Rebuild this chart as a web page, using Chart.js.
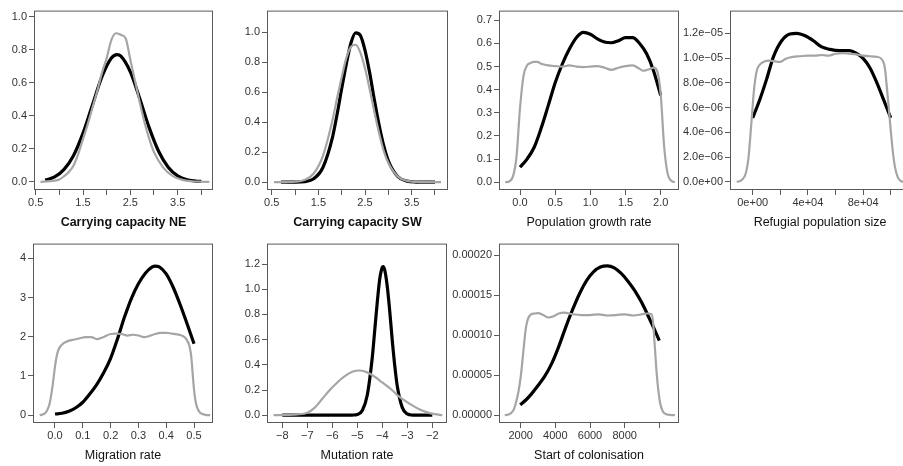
<!DOCTYPE html>
<html><head><meta charset="utf-8">
<script src="https://cdn.jsdelivr.net/npm/chart.js@4/dist/chart.umd.min.js"></script>
<style>
html,body{margin:0;padding:0;background:#fff;overflow:hidden;width:903px;height:466px;}
canvas{position:absolute;}
</style></head><body>
<script>
// ---------- DATA ----------
// Carrying capacity NE
const neGrayX = [0.6,0.8,1.0,1.1,1.2,1.3,1.4,1.5,1.6,1.7,1.8,1.9,2.0,2.1,2.2,2.3,2.4,2.5,2.6,2.7,2.8,2.9,3.0,3.2,3.4,3.6,3.8,4.0,4.17];
const neGrayY = [0,0.005,0.015,0.035,0.06,0.1,0.17,0.26,0.35,0.45,0.55,0.66,0.75,0.86,0.9,0.89,0.87,0.74,0.61,0.48,0.36,0.26,0.18,0.085,0.035,0.012,0.004,0.001,0];
const neBlackX = [0.7,0.9,1.1,1.3,1.5,1.7,1.9,2.1,2.22,2.3,2.5,2.7,2.9,3.1,3.3,3.5,3.7,3.9,4.0];
const neBlackY = [0.011,0.03,0.076,0.16,0.295,0.467,0.637,0.75,0.77,0.761,0.666,0.503,0.327,0.184,0.089,0.037,0.013,0.004,0.003];
// Carrying capacity SW
const swGrayX = [0.55,0.8,1.0,1.2,1.4,1.6,1.8,1.9,2.0,2.1,2.2,2.3,2.4,2.5,2.6,2.7,2.8,2.9,3.0,3.2,3.4,3.6,3.8,4.13];
const swGrayY = [0,0.001,0.003,0.014,0.058,0.178,0.41,0.56,0.70,0.83,0.904,0.917,0.865,0.76,0.62,0.47,0.33,0.21,0.13,0.039,0.009,0.002,0,0];
const swBlackX = [0.7,1.0,1.2,1.4,1.6,1.8,1.9,2.0,2.1,2.2,2.3,2.4,2.5,2.6,2.7,2.8,2.9,3.0,3.2,3.4,3.6,3.8,4.0];
const swBlackY = [0,0.0005,0.004,0.023,0.1,0.296,0.45,0.625,0.79,0.93,0.996,0.98,0.88,0.73,0.55,0.385,0.245,0.143,0.038,0.007,0.001,0,0];
// Population growth rate
const grGrayX = [-0.21,-0.15,-0.1,-0.05,0,0.05,0.1,0.15,0.2,0.25,0.3,0.4,0.5,0.6,0.7,0.8,0.9,1.0,1.1,1.2,1.3,1.4,1.5,1.6,1.7,1.75,1.8,1.85,1.9,1.95,2.0,2.05,2.1,2.15,2.2];
const grGrayY = [0,0.004,0.025,0.11,0.32,0.46,0.505,0.515,0.52,0.52,0.512,0.505,0.502,0.5,0.505,0.5,0.498,0.5,0.502,0.495,0.486,0.495,0.502,0.505,0.49,0.482,0.485,0.49,0.495,0.48,0.38,0.15,0.035,0.006,0];
const grBlackX = [0.0,0.1,0.2,0.3,0.4,0.5,0.6,0.7,0.8,0.9,1.0,1.1,1.2,1.3,1.4,1.5,1.6,1.7,1.8,1.9,2.0];
const grBlackY = [0.065,0.1,0.15,0.233,0.33,0.43,0.51,0.575,0.625,0.648,0.64,0.62,0.606,0.603,0.612,0.625,0.625,0.6,0.555,0.48,0.375];
// Refugial population size
const rfGrayX = [-11600,-8000,-5000,-3000,-1000,1000,3000,5000,8000,12000,14000,17000,20000,24000,29000,34000,40000,45000,50000,55000,60000,65000,70000,75000,80000,85000,90000,95000,96000,97000,98500,100000,101500,103000,105000,107000,109200];
const rfGrayY = [0,1.5e-7,7e-7,2.0e-6,4.7e-6,7.5e-6,9.0e-6,9.45e-6,9.7e-6,9.8e-6,9.78e-6,9.72e-6,9.7e-6,9.95e-6,1.01e-5,1.015e-5,1.02e-5,1.02e-5,1.025e-5,1.02e-5,1.035e-5,1.04e-5,1.035e-5,1.03e-5,1.02e-5,1.015e-5,1.01e-5,9.6e-6,9.0e-6,7.9e-6,6.1e-6,4.2e-6,2.5e-6,1.25e-6,4e-7,1e-7,0];
const rfBlackX = [0,5300,10100,15000,21000,27000,32000,38000,44000,50000,56000,63000,70000,75000,80000,85000,90000,95000,100000];
const rfBlackY = [5.17e-6,6.7e-6,8.3e-6,1.01e-5,1.14e-5,1.194e-5,1.2e-5,1.18e-5,1.14e-5,1.09e-5,1.07e-5,1.06e-5,1.06e-5,1.04e-5,9.97e-6,9.2e-6,8.0e-6,6.6e-6,5.17e-6];
// Migration rate
const mgGrayX = [-0.055,-0.04,-0.03,-0.02,-0.012,-0.005,0,0.006,0.012,0.02,0.03,0.05,0.07,0.09,0.11,0.13,0.15,0.17,0.2,0.22,0.24,0.26,0.28,0.3,0.32,0.34,0.36,0.38,0.4,0.42,0.44,0.46,0.47,0.48,0.485,0.49,0.495,0.5,0.505,0.51,0.52,0.53,0.54,0.558];
const mgGrayY = [0,0.03,0.1,0.28,0.58,0.95,1.24,1.5,1.66,1.76,1.83,1.9,1.93,1.96,1.99,1.99,1.94,1.98,2.07,2.08,2.07,2.03,2.05,2.03,1.99,2.02,2.07,2.1,2.1,2.08,2.06,2.02,1.96,1.84,1.72,1.5,1.08,0.65,0.38,0.22,0.08,0.03,0.01,0];
const mgBlackX = [0,0.025,0.05,0.075,0.1,0.125,0.15,0.175,0.2,0.225,0.25,0.275,0.3,0.325,0.35,0.36,0.375,0.4,0.425,0.45,0.475,0.5];
const mgBlackY = [0.03,0.05,0.1,0.19,0.33,0.54,0.78,1.08,1.45,1.95,2.5,2.98,3.35,3.62,3.78,3.8,3.78,3.6,3.26,2.82,2.33,1.82];
// Mutation rate
const muGrayX = [-8.35,-7.8,-7.4,-7.0,-6.7,-6.4,-6.1,-5.8,-5.5,-5.2,-4.9,-4.6,-4.3,-4.0,-3.7,-3.4,-3.1,-2.8,-2.5,-2.2,-1.9,-1.6];
const muGrayY = [0,0.002,0.006,0.02,0.06,0.13,0.2,0.26,0.31,0.345,0.355,0.34,0.305,0.26,0.215,0.16,0.115,0.078,0.045,0.022,0.008,0];
const muBlackX = [-8,-5.4,-5.2,-5.0,-4.8,-4.6,-4.4,-4.3,-4.2,-4.1,-4.0,-3.97,-3.9,-3.8,-3.7,-3.6,-3.5,-3.4,-3.2,-3.0,-2.8,-2.6,-2.0];
const muBlackY = [0,0,0.001,0.006,0.037,0.16,0.46,0.68,0.9,1.085,1.175,1.18,1.15,1.02,0.82,0.59,0.39,0.23,0.06,0.01,0.001,0,0];
// Start of colonisation
const scGrayX = [1080,1400,1600,1800,1900,2000,2100,2200,2300,2400,2550,2800,3000,3300,3600,3900,4200,4500,5000,5500,6000,6500,7000,7500,8000,8500,9000,9300,9550,9650,9700,9750,9850,9950,10050,10200,10400,10700,10900];
const scGrayY = [0,2e-6,7e-6,2.2e-5,3.3e-5,4.8e-5,6.8e-5,9.0e-5,1.09e-4,1.19e-4,1.25e-4,1.27e-4,1.275e-4,1.25e-4,1.22e-4,1.235e-4,1.27e-4,1.28e-4,1.26e-4,1.25e-4,1.25e-4,1.26e-4,1.245e-4,1.25e-4,1.26e-4,1.245e-4,1.26e-4,1.27e-4,1.26e-4,1.14e-4,9.8e-5,8.3e-5,5.2e-5,3.0e-5,1.5e-5,5e-6,1.2e-6,2e-7,0];
const scBlackX = [1970,2300,2600,3000,3400,3800,4200,4600,5000,5400,5800,6200,6600,7000,7400,7800,8200,8600,9000,9400,9700,10000];
const scBlackY = [1.3e-5,1.9e-5,2.6e-5,3.7e-5,4.9e-5,6.5e-5,8.6e-5,1.10e-4,1.32e-4,1.52e-4,1.68e-4,1.79e-4,1.85e-4,1.865e-4,1.84e-4,1.77e-4,1.67e-4,1.55e-4,1.40e-4,1.22e-4,1.08e-4,9.3e-5];

// ---------- TICKS ----------
const neXTicks = [0.5,1.0,1.5,2.0,2.5,3.0,3.5,4.0];
const neXLabels = ['0.5','','1.5','','2.5','','3.5',''];
const neYTicks = [0,0.2,0.4,0.6,0.8,1.0];
const neYLabels = ['0.0','0.2','0.4','0.6','0.8','1.0'];
const swXTicks = neXTicks, swXLabels = neXLabels;
const swYTicks = [0,0.2,0.4,0.6,0.8,1.0];
const swYLabels = ['0.0','0.2','0.4','0.6','0.8','1.0'];
const grXTicks = [0,0.5,1.0,1.5,2.0];
const grXLabels = ['0.0','0.5','1.0','1.5','2.0'];
const grYTicks = [0,0.1,0.2,0.3,0.4,0.5,0.6,0.7];
const grYLabels = ['0.0','0.1','0.2','0.3','0.4','0.5','0.6','0.7'];
const rfXTicks = [0,20000,40000,60000,80000,100000];
const rfXLabels = ['0e+00','','4e+04','','8e+04',''];
const rfYTicks = [0,2e-6,4e-6,6e-6,8e-6,1e-5,1.2e-5];
const rfYLabels = ['0.0e+00','2.0e\u221206','4.0e\u221206','6.0e\u221206','8.0e\u221206','1.0e\u221205','1.2e\u221205'];
const mgXTicks = [0,0.1,0.2,0.3,0.4,0.5];
const mgXLabels = ['0.0','0.1','0.2','0.3','0.4','0.5'];
const mgYTicks = [0,1,2,3,4];
const mgYLabels = ['0','1','2','3','4'];
const muXTicks = [-8,-7,-6,-5,-4,-3,-2];
const muXLabels = ['\u22128','\u22127','\u22126','\u22125','\u22124','\u22123','\u22122'];
const muYTicks = [0,0.2,0.4,0.6,0.8,1.0,1.2];
const muYLabels = ['0.0','0.2','0.4','0.6','0.8','1.0','1.2'];
const scXTicks = [2000,4000,6000,8000,10000];
const scXLabels = ['2000','4000','6000','8000',''];
const scYTicks = [0,5e-5,1e-4,1.5e-4,2e-4];
const scYLabels = ['0.00000','0.00005','0.00010','0.00015','0.00020'];

const titles = ['Carrying capacity NE','Carrying capacity SW','Population growth rate','Refugial population size','Migration rate','Mutation rate','Start of colonisation'];

// ---------- LAYOUT ----------
const FONT = "'Liberation Sans', Arial, Helvetica, sans-serif";
const GRAY = '#a5a5a5', BLACK = '#000000';
const XH = 48, PT = 4, PR = 4;

const boxPlugin = {
  id: 'box',
  afterDraw(chart) {
    const {ctx, chartArea: a} = chart;
    ctx.save();
    ctx.strokeStyle = '#5a5a5a';
    ctx.lineWidth = 1;
    ctx.strokeRect(a.left + 0.5, a.top + 0.5, a.right - a.left - 1, a.bottom - a.top - 1);
    ctx.restore();
  }
};

function panel(p) {
  const c = document.createElement('canvas');
  const w = p.box[2] - p.box[0] + p.yw + PR;
  const h = p.box[3] - p.box[1] + PT + XH;
  c.width = w; c.height = h;
  c.style.left = (p.box[0] - p.yw) + 'px';
  c.style.top = (p.box[1] - PT) + 'px';
  c.style.width = w + 'px'; c.style.height = h + 'px';
  document.body.appendChild(c);
  const ds = p.series.map(s => ({
    data: s[0].map((x, i) => ({x: x, y: s[1][i]})),
    borderColor: s[2], borderWidth: s[3], pointRadius: 0,
    cubicInterpolationMode: 'monotone', fill: false
  }));
  const tickFont = {family: FONT, size: 11};
  new Chart(c, {
    type: 'line',
    data: {datasets: ds},
    options: {
      responsive: false, animation: false, devicePixelRatio: 1,
      layout: {padding: {top: PT, right: PR, left: 0, bottom: 0}},
      plugins: {legend: {display: false}, tooltip: {enabled: false}},
      scales: {
        x: {
          type: 'linear', min: p.xr[0], max: p.xr[1],
          afterBuildTicks: s => { s.ticks = p.xt.map(v => ({value: v})); },
          afterFit: s => { s.height = XH; },
          grid: {drawOnChartArea: false, drawTicks: true, tickLength: 5, color: '#5a5a5a', lineWidth: 1},
          border: {display: false},
          ticks: {autoSkip: false, maxRotation: 0, padding: 1, color: '#333', font: tickFont,
                  callback: (v, i) => p.xl[i]},
          title: {display: true, text: p.title, color: '#111',
                  font: {family: FONT, size: 12.5, weight: p.bold ? 'bold' : 'normal'},
                  padding: {top: 0, bottom: p.tp}}
        },
        y: {
          type: 'linear', min: p.yr[0], max: p.yr[1],
          afterBuildTicks: s => { s.ticks = p.yt.map(v => ({value: v})); },
          afterFit: s => { s.width = p.yw; },
          grid: {drawOnChartArea: false, drawTicks: true, tickLength: 5, color: '#5a5a5a', lineWidth: 1},
          border: {display: false},
          ticks: {autoSkip: false, padding: 2, color: '#333', font: tickFont,
                  callback: (v, i) => p.yl[i]}
        }
      }
    },
    plugins: [boxPlugin]
  });
}

const panels = [
  {box:[34,6,213,190], yw:40, xr:[0.464,4.247], yr:[-0.049,1.037], xt:neXTicks, xl:neXLabels, yt:neYTicks, yl:neYLabels, title:titles[0], bold:true, tp:8,
   series:[[neGrayX,neGrayY,GRAY,2.2],[neBlackX,neBlackY,BLACK,3.2]]},
  {box:[267,6,448,190], yw:40, xr:[0.399,4.279], yr:[-0.052,1.145], xt:swXTicks, xl:swXLabels, yt:swYTicks, yl:swYLabels, title:titles[1], bold:true, tp:8,
   series:[[swGrayX,swGrayY,GRAY,2.2],[swBlackX,swBlackY,BLACK,3.2]]},
  {box:[499,6,679,190], yw:40, xr:[-0.2985,2.26], yr:[-0.0337,0.742], xt:grXTicks, xl:grXLabels, yt:grYTicks, yl:grYLabels, title:titles[2], bold:false, tp:8,
   series:[[grGrayX,grGrayY,GRAY,2.2],[grBlackX,grBlackY,BLACK,3.2]]},
  {box:[730,6,910,190], yw:50, xr:[-16449,113986], yr:[-6.54e-7,1.3835e-5], xt:rfXTicks, xl:rfXLabels, yt:rfYTicks, yl:rfYLabels, title:titles[3], bold:false, tp:8,
   series:[[rfGrayX,rfGrayY,GRAY,2.2],[rfBlackX,rfBlackY,BLACK,3.2]]},
  {box:[33,239,213,423], yw:40, xr:[-0.0791,0.5683], yr:[-0.199,4.373], xt:mgXTicks, xl:mgXLabels, yt:mgYTicks, yl:mgYLabels, title:titles[4], bold:false, tp:8,
   series:[[mgGrayX,mgGrayY,GRAY,2.2],[mgBlackX,mgBlackY,BLACK,3.2]]},
  {box:[267,239,447,423], yw:40, xr:[-8.612,-1.412], yr:[-0.062,1.3626], xt:muXTicks, xl:muXLabels, yt:muYTicks, yl:muYLabels, title:titles[5], bold:false, tp:8,
   series:[[muGrayX,muGrayY,GRAY,2.2],[muBlackX,muBlackY,BLACK,3.2]]},
  {box:[499,239,679,423], yw:50, xr:[747,11137], yr:[-9.74e-6,2.1424e-4], xt:scXTicks, xl:scXLabels, yt:scYTicks, yl:scYLabels, title:titles[6], bold:false, tp:8,
   series:[[scGrayX,scGrayY,GRAY,2.2],[scBlackX,scBlackY,BLACK,3.2]]}
];
panels.forEach(panel);
</script>
</body></html>
